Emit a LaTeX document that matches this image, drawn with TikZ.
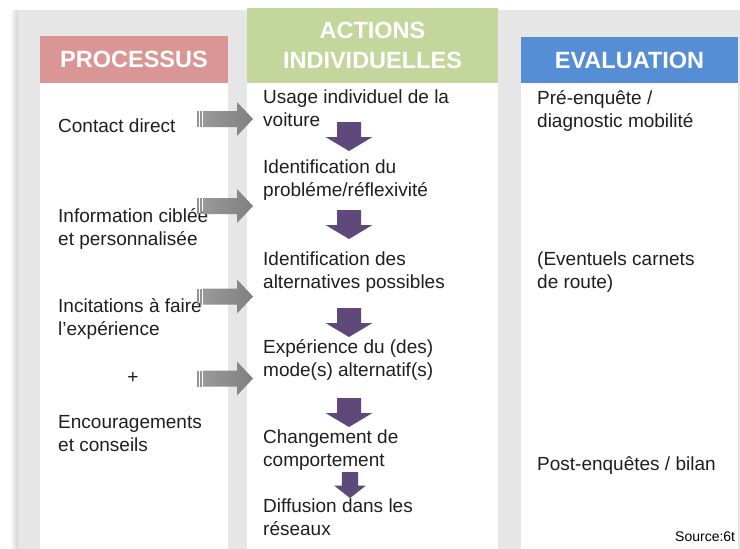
\documentclass[tikz,border=0pt]{standalone}
\usepackage{fontspec}
\setmainfont{Liberation Sans}
\definecolor{procred}{RGB}{217,150,148}
\definecolor{actgreen}{RGB}{195,214,155}
\definecolor{evalblue}{RGB}{85,142,213}
\definecolor{steppurple}{RGB}{95,73,122}
\definecolor{panelgray}{RGB}{230,230,230}
\newcommand{\bodyfont}{\fontsize{19}{23}\selectfont}
\newcommand{\hdrfont}{\bfseries\fontsize{23.5}{30}\selectfont}
\tikzset{
  hdr/.style={text=white, font=\hdrfont, align=center, inner sep=0pt},
  % multi-line body texts sit on the baseline of their last line
  body/.style={font=\bodyfont, text=black!88, align=left, anchor=base west, inner sep=0pt},
  % grey push arrow, origin at the tail centre
  grayarr/.pic={
    \fill[black!42] (0,-8) rectangle (1.5,8);
    \fill[black!42] (3,-8) rectangle (4.5,8);
    \shade[left color=black!40, right color=black!50]
      (6,-8) -- (40,-8) -- (40,-17) -- (56,0) -- (40,17) -- (40,8) -- (6,8) -- cycle;
  },
  % purple step arrow, origin at the top centre
  steparr/.pic={
    \fill[steppurple] (-12,0) -- (12,0) -- (12,15) -- (23.5,15) -- (0,29)
      -- (-23.5,15) -- (-12,15) -- cycle;
  }
}
\begin{document}
\begin{tikzpicture}[x=1pt,y=-1pt]
\useasboundingbox (0,0) rectangle (740,549);

% background panel and columns
\shade[left color=white, right color=gray!35] (10,10) rectangle (18,549);
\fill[panelgray] (18,10) rectangle (740,549);
\fill[white] (40,83) rectangle (228,549);
\fill[white] (247,83) rectangle (498,549);
\fill[white] (521,83) rectangle (738,549);

% headers
\node[hdr, fill=procred, minimum width=188pt, minimum height=47pt] (hproc) at (134,59.5) {PROCESSUS};
\node[hdr, fill=actgreen, minimum width=251pt, minimum height=75pt] (hact) at (372.5,45.5) {ACTIONS\\INDIVIDUELLES};
\node[hdr, fill=evalblue, minimum width=217pt, minimum height=46pt] (heval) at (629.5,60) {EVALUATION};

% processus
\node[body] (proc1) at (58,132) {Contact direct};
\node[body] (proc2) at (58,245) {Information ciblée\\et personnalisée};
\node[body] (proc3) at (58,335) {Incitations à faire\\l’expérience};
\node[body, anchor=base] (plus) at (133,383) {+};
\node[body] (proc4) at (58,451) {Encouragements\\et conseils};

% actions individuelles
\node[body] (act1) at (263,126) {Usage individuel de la\\voiture};
\node[body] (act2) at (263,196) {Identification du\\probléme/réflexivité};
\node[body] (act3) at (263,288) {Identification des\\alternatives possibles};
\node[body] (act4) at (263,376) {Expérience du (des)\\mode(s) alternatif(s)};
\node[body] (act5) at (263,466) {Changement de\\comportement};
\node[body] (act6) at (263,535) {Diffusion dans les\\réseaux};

% evaluation
\node[body] (eval1) at (537,127) {Pré-enquête /\\diagnostic mobilité};
\node[body] (eval2) at (537,288) {(Eventuels carnets\\de route)};
\node[body] (eval3) at (537,470) {Post-enquêtes / bilan};
\node[font=\fontsize{14}{16}\selectfont, anchor=base west, inner sep=0pt] (src) at (675,541) {Source:6t};

% arrows
\pic at (197,119) {grayarr};
\pic at (197,206) {grayarr};
\pic at (197,296.5) {grayarr};
\pic at (197,378.5) {grayarr};

\pic at (349,122) {steparr};
\pic at (349,210) {steparr};
\pic at (349,308) {steparr};
\pic at (349,398) {steparr};
\pic[xscale=0.68, yscale=0.9] at (350,472) {steparr};
\end{tikzpicture}
\end{document}
